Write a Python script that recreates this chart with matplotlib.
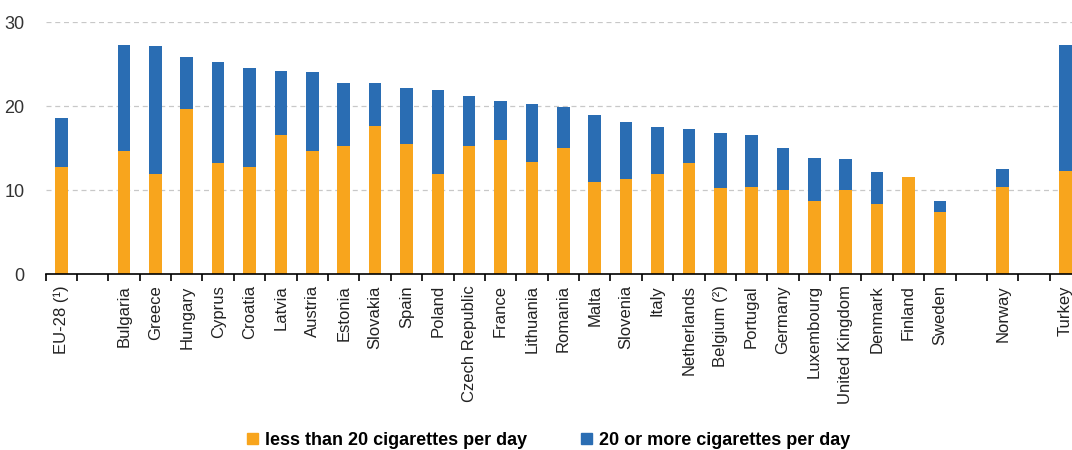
import numpy as np
import matplotlib
matplotlib.use("Agg")
import matplotlib.pyplot as plt
from matplotlib.patches import Patch

plt.rcParams['font.family'] = ['Liberation Sans', 'DejaVu Sans']

# data (empty string = gap slot)
countries = ["EU-28 (¹)", "", "Bulgaria", "Greece", "Hungary", "Cyprus", "Croatia",
             "Latvia", "Austria", "Estonia", "Slovakia", "Spain", "Poland",
             "Czech Republic", "France", "Lithuania", "Romania", "Malta", "Slovenia",
             "Italy", "Netherlands", "Belgium (²)", "Portugal", "Germany", "Luxembourg",
             "United Kingdom", "Denmark", "Finland", "Sweden", "", "Norway", "", "Turkey"]
less20 = [12.7, np.nan, 14.6, 11.9, 19.6, 13.2, 12.7, 16.5, 14.6, 15.2, 17.6, 15.5, 11.9,
          15.2, 16.0, 13.3, 15.0, 10.9, 11.3, 11.9, 13.2, 10.2, 10.4, 10.0, 8.7,
          10.0, 8.3, 11.5, 7.4, np.nan, 10.4, np.nan, 12.3]
total = [18.6, np.nan, 27.3, 27.1, 25.8, 25.3, 24.5, 24.2, 24.0, 22.7, 22.7, 22.2, 21.9,
         21.2, 20.6, 20.2, 19.9, 18.9, 18.1, 17.5, 17.3, 16.8, 16.5, 15.0, 13.8,
         13.7, 12.2, 11.5, 8.7, np.nan, 12.5, np.nan, 27.3]

less20 = np.array(less20)
more20 = np.array(total) - less20

orange = '#F8A51D'
blue = '#2A6DB3'

fig = plt.figure(figsize=(10.72, 4.5), dpi=100)
ax = fig.add_axes([0.0425, 0.391, 0.966, 0.56])

x = np.arange(len(countries))
ax.bar(x, less20, width=0.4, color=orange, zorder=3)
ax.bar(x, more20, width=0.4, bottom=less20, color=blue, zorder=3)

ax.set_xlim(-0.5, len(countries) - 0.5)
ax.set_ylim(0, 30)
ax.set_yticks([0, 10, 20, 30])
ax.yaxis.grid(True, linestyle=(0, (4, 3)), color='#c8c8c8', linewidth=0.9, zorder=0)
ax.tick_params(axis='y', length=0, labelsize=13, colors='#333333', pad=15)

# ticks at slot boundaries, labels at slot centres
ax.set_xticks(np.arange(len(countries) + 1) - 0.5)
ax.set_xticklabels([])
ax.tick_params(axis='x', which='major', length=5, width=1.2, color='black', direction='out')
ax.set_xticks(x, minor=True)
ax.set_xticklabels(countries, minor=True, rotation=90, fontsize=12, color='#222222')
ax.tick_params(axis='x', which='minor', length=0, pad=8)

for s in ['top', 'right', 'left']:
    ax.spines[s].set_visible(False)
ax.spines['bottom'].set_linewidth(1.2)
ax.spines['bottom'].set_zorder(4)

handles = [Patch(color=orange, label='less than 20 cigarettes per day'),
           Patch(color=blue, label='20 or more cigarettes per day')]
fig.legend(handles=handles, loc='center', bbox_to_anchor=(0.512, 0.022), ncol=2,
           frameon=False, handlelength=0.6, handleheight=0.6, handletextpad=0.4,
           columnspacing=3.0, prop={'weight': 'bold', 'size': 13})

fig.savefig('out.png', dpi=100)
